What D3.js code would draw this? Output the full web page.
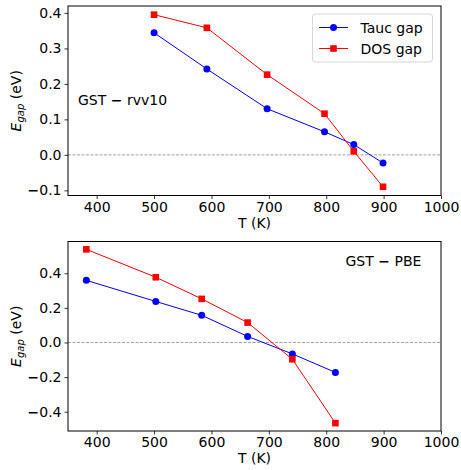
<!DOCTYPE html>
<html><head><meta charset="utf-8">
<script src="https://cdn.jsdelivr.net/npm/d3@7"></script>
<style>body{margin:0;background:#fff}svg{display:block;font-family:"DejaVu Sans",sans-serif}</style>
</head><body><svg id="c" width="461" height="470"></svg>
<script>
// Top panel (GST − rvv10)
const topT_tauc = [500, 592, 697, 797, 848, 899];
const topE_tauc = [0.344, 0.242, 0.130, 0.065, 0.029, -0.023];
const topT_dos  = [500, 592, 697, 797, 848, 899];
const topE_dos  = [0.395, 0.358, 0.226, 0.116, 0.010, -0.090];
// Bottom panel (GST − PBE)
const botT_tauc = [382, 503, 583, 663, 741, 816];
const botE_tauc = [0.359, 0.237, 0.157, 0.035, -0.066, -0.173];
const botT_dos  = [382, 503, 583, 663, 741, 816];
const botE_dos  = [0.538, 0.377, 0.252, 0.115, -0.097, -0.466];
const xTicks = [400, 500, 600, 700, 800, 900, 1000];
const topYTicks = [-0.1, 0.0, 0.1, 0.2, 0.3, 0.4];
const botYTicks = [-0.4, -0.2, 0.0, 0.2, 0.4];
const seriesNames = ["Tauc gap", "DOS gap"];
const labelParts = [["GST ", "\u2212", " rvv10"], ["GST ", "\u2212", " PBE"]];

const svg = d3.select("#c");
const L = 68, R = 441;

function panel(top, bottom, ydom, yticks, tT, tE, dT, dE, lparts, labelPos, legend) {
  const x = d3.scaleLinear().domain([350, 1000]).range([L, R]);
  const y = d3.scaleLinear().domain(ydom).range([bottom, top]);
  const g = svg.append("g");
  g.append("line").attr("x1", L).attr("x2", R).attr("y1", y(0)).attr("y2", y(0))
    .attr("stroke", "#8c8c8c").attr("stroke-width", 0.8).attr("stroke-dasharray", "3,1.5");
  const xa = g.append("g").attr("transform", `translate(0,${bottom})`)
    .call(d3.axisBottom(x).tickValues(xTicks).tickSize(3.5).tickPadding(3).tickFormat(d3.format("d")));
  const ya = g.append("g").attr("transform", `translate(${L},0)`)
    .call(d3.axisLeft(y).tickValues(yticks).tickSize(3.5).tickPadding(3).tickFormat(""));
  ya.selectAll(".tick text").each(function(d) {
    const t = d3.select(this);
    if (d < 0) t.append("tspan").attr("font-weight", "bold").text("\u2212");
    t.append("tspan").text(Math.abs(d).toFixed(1));
  });
  [xa, ya].forEach(a => {
    a.select(".domain").remove();
    a.selectAll("text").attr("font-size", 14).attr("fill", "#000").attr("font-family", "DejaVu Sans");
    a.selectAll("line").attr("stroke", "#000").attr("stroke-width", 0.8);
  });
  g.append("rect").attr("x", L).attr("y", top).attr("width", R - L).attr("height", bottom - top)
    .attr("fill", "none").attr("stroke", "#000").attr("stroke-width", 1);
  const line = d3.line();
  const tp = tT.map((t, i) => [x(t), y(tE[i])]);
  const dp = dT.map((t, i) => [x(t), y(dE[i])]);
  g.append("path").attr("d", line(tp)).attr("fill", "none").attr("stroke", "#0000ff").attr("stroke-width", 1);
  g.selectAll(null).data(tp).enter().append("circle").attr("cx", d => d[0]).attr("cy", d => d[1])
    .attr("r", 3.5).attr("fill", "#0000ff");
  g.append("path").attr("d", line(dp)).attr("fill", "none").attr("stroke", "#ff0000").attr("stroke-width", 1);
  g.selectAll(null).data(dp).enter().append("rect").attr("x", d => d[0] - 3.3).attr("y", d => d[1] - 3.3)
    .attr("width", 6.6).attr("height", 6.6).attr("fill", "#ff0000");
  g.append("text").attr("x", (L + R) / 2).attr("y", bottom + 32).attr("text-anchor", "middle")
    .attr("font-size", 14).text("T (K)");
  const yl = g.append("text").attr("transform", `translate(20.5,${(top + bottom) / 2}) rotate(-90)`)
    .attr("text-anchor", "middle").attr("font-size", 14);
  yl.append("tspan").attr("font-style", "italic").text("E");
  yl.append("tspan").attr("font-style", "italic").attr("font-size", 10).attr("dy", 3).text("gap");
  yl.append("tspan").attr("dy", -3).text(" (eV)");
  const lt = g.append("text").attr("x", labelPos[0]).attr("y", labelPos[1]).attr("font-size", 14);
  lt.append("tspan").text(lparts[0]);
  lt.append("tspan").attr("font-weight", "bold").text(lparts[1]);
  lt.append("tspan").text(lparts[2]);
  if (legend) {
    const lg = g.append("g");
    lg.append("rect").attr("x", 312.5).attr("y", 14).attr("width", 120).attr("height", 48).attr("rx", 3)
      .attr("fill", "#fff").attr("fill-opacity", 0.8).attr("stroke", "#d6d6d6").attr("stroke-width", 1);
    const ly = [27.5, 48.5];
    const cols = ["#0000ff", "#ff0000"];
    seriesNames.forEach((n, i) => {
      lg.append("line").attr("x1", 319).attr("x2", 348).attr("y1", ly[i]).attr("y2", ly[i])
        .attr("stroke", cols[i]).attr("stroke-width", 1);
      if (i === 0) lg.append("circle").attr("cx", 333.5).attr("cy", ly[i]).attr("r", 3.5).attr("fill", cols[i]);
      else lg.append("rect").attr("x", 330.2).attr("y", ly[i] - 3.3).attr("width", 6.6).attr("height", 6.6).attr("fill", cols[i]);
      lg.append("text").attr("x", 360.5).attr("y", ly[i] + 5).attr("font-size", 14).text(n);
    });
  }
}

panel(6, 195.5, [-0.1145, 0.4195], topYTicks, topT_tauc, topE_tauc, topT_dos, topE_dos, labelParts[0], [78, 105], true);
panel(241.5, 431, [-0.5115, 0.5835], botYTicks, botT_tauc, botE_tauc, botT_dos, botE_dos, labelParts[1], [345.5, 265.5], false);
</script></body></html>
